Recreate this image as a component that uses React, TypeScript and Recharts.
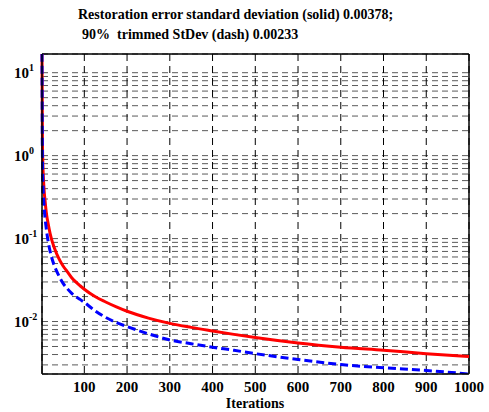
import React from 'react';
import { LineChart, Line, XAxis, YAxis, CartesianGrid, ReferenceLine } from 'recharts';

const iterations = [1, 2, 3, 4, 5, 6, 8, 10, 12, 15, 20, 25, 30, 40, 50, 60, 70, 80, 90, 100, 125, 150, 175, 200, 250, 300, 350, 400, 450, 500, 600, 700, 800, 900, 1000];
const solidStd = [17, 1.6, 0.8, 0.57, 0.46, 0.38, 0.29, 0.23, 0.19, 0.155, 0.115, 0.092, 0.077, 0.058, 0.047, 0.04, 0.034, 0.03, 0.027, 0.0245, 0.02, 0.0172, 0.015, 0.0133, 0.011, 0.0095, 0.0085, 0.0077, 0.007, 0.0064, 0.0055, 0.0049, 0.0045, 0.0041, 0.00378];
const trimmedStd = [17, 1.0, 0.5, 0.36, 0.29, 0.24, 0.18, 0.145, 0.12, 0.095, 0.07, 0.056, 0.047, 0.036, 0.029, 0.025, 0.022, 0.02, 0.0185, 0.017, 0.0135, 0.0112, 0.0097, 0.0087, 0.0071, 0.006, 0.0054, 0.0049, 0.0045, 0.0041, 0.00348, 0.00303, 0.00277, 0.00257, 0.00233];

const xTicks = [100, 200, 300, 400, 500, 600, 700, 800, 900, 1000];
const yTicks = [
  0.003, 0.004, 0.005, 0.006, 0.007, 0.008, 0.009,
  0.01, 0.02, 0.03, 0.04, 0.05, 0.06, 0.07, 0.08, 0.09,
  0.1, 0.2, 0.3, 0.4, 0.5, 0.6, 0.7, 0.8, 0.9,
  1, 2, 3, 4, 5, 6, 7, 8, 9, 10,
];
const decadeLabels: Record<string, string> = { '0.01': '-2', '0.1': '-1', '1': '0', '10': '1' };

const Y_MIN = 0.00233;
const Y_MAX = 16.8;

const data = iterations.map((it, i) => ({ it, solid: solidStd[i], dash: trimmedStd[i] }));

const font = '"Liberation Serif", "Times New Roman", serif';

const YTick = (props: any) => {
  const { y, payload } = props;
  const exp = decadeLabels[String(payload.value)];
  if (exp === undefined) return null;
  return (
    <text x={14} y={y + 5} fontFamily={font} fontWeight="bold" fontSize={15} fill="#000">
      10<tspan dy={-7} fontSize={10}>{exp}</tspan>
    </text>
  );
};

const XTick = (props: any) => {
  const { x, payload } = props;
  return (
    <text x={x} y={392} textAnchor="middle" fontFamily={font} fontWeight="bold" fontSize={15} fill="#000">
      {payload.value}
    </text>
  );
};

export default function App() {
  return (
    <div style={{ position: 'absolute', left: 0, top: 0, width: 489, height: 412, background: '#fff' }}>
      <LineChart width={489} height={412} data={data} margin={{ top: 54, right: 20, bottom: 0, left: 0 }}>
        {/* log minor grid looks greyish in the original, verticals are solid black dashes */}
        <CartesianGrid vertical={false} stroke="#5a5a5a" strokeDasharray="6 4" strokeWidth={1} />
        <CartesianGrid horizontal={false} stroke="#000" strokeDasharray="7 5" strokeWidth={1} />
        <XAxis
          dataKey="it"
          type="number"
          domain={[1, 1000]}
          ticks={xTicks}
          height={38}
          tickLine={false}
          axisLine={{ stroke: '#000', strokeWidth: 1.5 }}
          tick={<XTick />}
          interval={0}
        />
        <YAxis
          scale="log"
          type="number"
          domain={[Y_MIN, Y_MAX]}
          allowDataOverflow
          ticks={yTicks}
          width={42}
          tickLine={false}
          axisLine={{ stroke: '#000', strokeWidth: 1.5 }}
          tick={<YTick />}
          interval={0}
        />
        <ReferenceLine y={Y_MAX} stroke="#000" strokeWidth={1.5} />
        <ReferenceLine x={1000} stroke="#000" strokeWidth={1.5} />
        <Line type="monotone" dataKey="solid" stroke="#ff0000" strokeWidth={3} dot={false} isAnimationActive={false} />
        <Line type="monotone" dataKey="dash" stroke="#0000ff" strokeWidth={3} strokeDasharray="8 4" dot={false} isAnimationActive={false} />
      </LineChart>
      <svg width={489} height={412} style={{ position: 'absolute', left: 0, top: 0, pointerEvents: 'none' }}>
        <text x={78} y={19} fontFamily={font} fontWeight="bold" fontSize={14} fill="#000">
          Restoration error standard deviation (solid) 0.00378;
        </text>
        <text x={82} y={39} fontFamily={font} fontWeight="bold" fontSize={14} fill="#000" xmlSpace="preserve">
          90%  trimmed StDev (dash) 0.00233
        </text>
        <text x={255} y={408} textAnchor="middle" fontFamily={font} fontWeight="bold" fontSize={14} fill="#000">
          Iterations
        </text>
      </svg>
    </div>
  );
}
